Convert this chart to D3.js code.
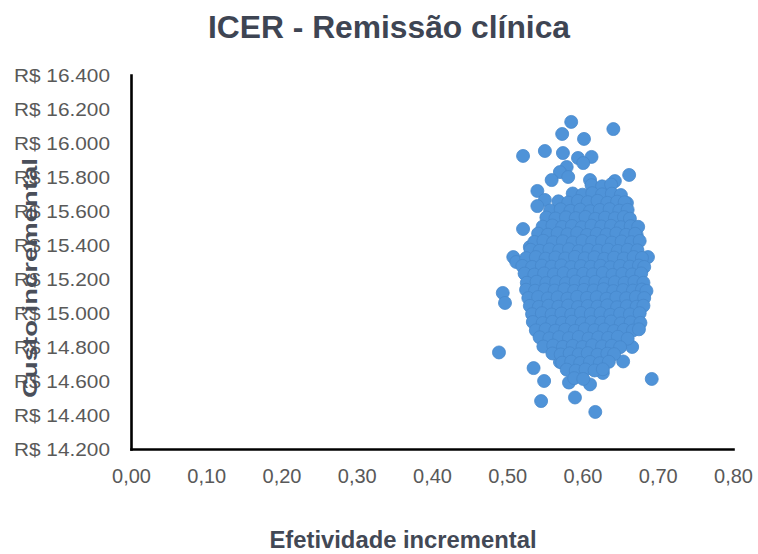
<!DOCTYPE html>
<html>
<head>
<meta charset="utf-8">
<script src="https://cdn.jsdelivr.net/npm/d3@7"></script>
<style>
  body { margin: 0; background: #fff; }
  svg { display: block; font-family: "Liberation Sans", Arial, sans-serif; }
</style>
</head>
<body>
<svg></svg>
<script>
// texts
var chartTitle = "ICER - Remissão clínica";
var xTitle = "Efetividade incremental";
var yTitle = "Custo incremental";

// tick values
var xTicks = [0, 0.1, 0.2, 0.3, 0.4, 0.5, 0.6, 0.7, 0.8];
var yTicks = [14200, 14400, 14600, 14800, 15000, 15200, 15400, 15600, 15800, 16000, 16200, 16400];

// simulations [effect, cost]: scattered ones around the cloud
var outerPoints = [
  [0.585, 16124], [0.573, 16053], [0.602, 16024], [0.641, 16082], [0.521, 15924],
  [0.550, 15953], [0.574, 15941], [0.594, 15912], [0.612, 15918], [0.601, 15882],
  [0.579, 15859], [0.570, 15829], [0.559, 15782], [0.581, 15800], [0.662, 15812],
  [0.643, 15776], [0.610, 15782], [0.540, 15718], [0.550, 15665], [0.540, 15629],
  [0.521, 15494], [0.530, 15388], [0.508, 15329], [0.512, 15300], [0.687, 15329],
  [0.672, 15459], [0.659, 15647], [0.489, 14768], [0.494, 15118], [0.497, 15059],
  [0.535, 14676], [0.549, 14600], [0.545, 14482], [0.590, 14503], [0.617, 14418],
  [0.692, 14612], [0.654, 14715], [0.666, 14800], [0.610, 14580], [0.582, 14591],
  [0.570, 14712], [0.627, 14647]
];

// simulations [effect, cost]: the dense core of the cloud
var corePoints = [
  [0.612, 15752], [0.626, 15745], [0.638, 15756],
  [0.587, 15703], [0.600, 15696], [0.613, 15705], [0.626, 15698], [0.639, 15702], [0.651, 15694],
  [0.568, 15657], [0.581, 15650], [0.594, 15659], [0.607, 15652], [0.620, 15660], [0.633, 15648], [0.646, 15655], [0.656, 15651],
  [0.557, 15603], [0.571, 15610], [0.584, 15601], [0.597, 15608], [0.610, 15599], [0.623, 15606], [0.636, 15611], [0.649, 15602], [0.660, 15607],
  [0.552, 15562], [0.564, 15556], [0.578, 15563], [0.591, 15558], [0.604, 15565], [0.617, 15554], [0.630, 15561], [0.643, 15557], [0.655, 15564], [0.663, 15555],
  [0.547, 15508], [0.560, 15515], [0.573, 15506], [0.586, 15512], [0.599, 15504], [0.612, 15514], [0.625, 15509], [0.638, 15513], [0.651, 15505], [0.664, 15511], [0.674, 15507],
  [0.541, 15467], [0.554, 15461], [0.567, 15469], [0.580, 15463], [0.593, 15470], [0.606, 15459], [0.619, 15466], [0.632, 15462], [0.645, 15468], [0.658, 15460], [0.670, 15466],
  [0.536, 15418], [0.548, 15425], [0.561, 15416], [0.574, 15422], [0.587, 15415], [0.600, 15424], [0.613, 15419], [0.626, 15423], [0.639, 15414], [0.652, 15421], [0.665, 15417], [0.676, 15424],
  [0.531, 15372], [0.543, 15366], [0.556, 15374], [0.569, 15368], [0.582, 15375], [0.595, 15364], [0.608, 15371], [0.621, 15367], [0.634, 15373], [0.647, 15365], [0.660, 15372], [0.673, 15369],
  [0.525, 15323], [0.538, 15329], [0.551, 15320], [0.564, 15327], [0.577, 15321], [0.590, 15330], [0.603, 15322], [0.616, 15328], [0.629, 15319], [0.642, 15326], [0.655, 15321], [0.668, 15329], [0.679, 15324],
  [0.520, 15277], [0.533, 15271], [0.546, 15279], [0.559, 15273], [0.572, 15280], [0.585, 15270], [0.598, 15276], [0.611, 15272], [0.624, 15278], [0.637, 15269], [0.650, 15277], [0.663, 15273], [0.675, 15279], [0.682, 15271],
  [0.523, 15232], [0.536, 15226], [0.549, 15233], [0.562, 15227], [0.575, 15234], [0.588, 15225], [0.601, 15231], [0.614, 15228], [0.627, 15235], [0.640, 15224], [0.653, 15230], [0.666, 15227], [0.678, 15233],
  [0.526, 15178], [0.539, 15184], [0.552, 15176], [0.565, 15182], [0.578, 15175], [0.591, 15185], [0.604, 15179], [0.617, 15183], [0.630, 15174], [0.643, 15181], [0.656, 15177], [0.669, 15184], [0.681, 15178],
  [0.525, 15137], [0.537, 15131], [0.550, 15138], [0.563, 15132], [0.576, 15139], [0.589, 15130], [0.602, 15136], [0.615, 15133], [0.628, 15140], [0.641, 15129], [0.654, 15135], [0.667, 15132], [0.679, 15138], [0.685, 15130],
  [0.528, 15088], [0.541, 15094], [0.554, 15086], [0.567, 15092], [0.580, 15085], [0.593, 15095], [0.606, 15089], [0.619, 15093], [0.632, 15084], [0.645, 15091], [0.658, 15087], [0.671, 15094], [0.682, 15088],
  [0.530, 15042], [0.542, 15036], [0.555, 15043], [0.568, 15037], [0.581, 15044], [0.594, 15035], [0.607, 15041], [0.620, 15038], [0.633, 15045], [0.646, 15034], [0.659, 15040], [0.672, 15037], [0.681, 15043],
  [0.533, 14993], [0.546, 14999], [0.559, 14991], [0.572, 14997], [0.585, 14990], [0.598, 15000], [0.611, 14994], [0.624, 14998], [0.637, 14989], [0.650, 14996], [0.663, 14992], [0.676, 14999],
  [0.534, 14947], [0.547, 14941], [0.560, 14948], [0.573, 14942], [0.586, 14949], [0.599, 14940], [0.612, 14946], [0.625, 14943], [0.638, 14950], [0.651, 14939], [0.664, 14945], [0.677, 14942],
  [0.538, 14898], [0.551, 14904], [0.564, 14896], [0.577, 14902], [0.590, 14895], [0.603, 14905], [0.616, 14899], [0.629, 14903], [0.642, 14894], [0.655, 14901], [0.667, 14897], [0.675, 14904],
  [0.543, 14857], [0.556, 14851], [0.569, 14858], [0.582, 14852], [0.595, 14859], [0.608, 14850], [0.621, 14856], [0.634, 14853], [0.647, 14860], [0.660, 14849],
  [0.548, 14803], [0.561, 14809], [0.574, 14801], [0.587, 14807], [0.600, 14800], [0.613, 14810], [0.626, 14804], [0.639, 14808], [0.650, 14799],
  [0.560, 14762], [0.571, 14756], [0.583, 14763], [0.595, 14757], [0.607, 14764], [0.620, 14755], [0.633, 14761], [0.642, 14758],
  [0.573, 14708], [0.585, 14714], [0.597, 14706], [0.610, 14712], [0.623, 14705], [0.635, 14713],
  [0.579, 14667], [0.591, 14661], [0.604, 14668], [0.616, 14662], [0.627, 14669],
  [0.589, 14617], [0.601, 14612]
];

var screen = { width: 758, height: 554 };
var margins = { left: 131, right: 25, top: 75, bottom: 105 };
var graph = {
  width: screen.width - margins.left - margins.right,
  height: screen.height - margins.top - margins.bottom
};

var svg = d3.select("svg").attr("width", screen.width).attr("height", screen.height);

var ptBr = d3.formatLocale({ decimal: ",", thousands: ".", grouping: [3], currency: ["R$ ", ""] });

var xScale = d3.scaleLinear().domain([0, 0.8]).range([0, graph.width]);
var yScale = d3.scaleLinear().domain([14200, 16400]).range([graph.height, 0]);

var plot = svg.append("g")
  .attr("transform", "translate(" + margins.left + "," + margins.top + ")");

// points
plot.append("g")
  .selectAll("circle")
  .data(outerPoints.concat(corePoints))
  .enter()
  .append("circle")
  .attr("cx", function (d) { return xScale(d[0]); })
  .attr("cy", function (d) { return yScale(d[1]); })
  .attr("r", 6.5)
  .style("fill", "#4f93d8")
  .style("stroke", "#4688cc")
  .style("stroke-width", 0.8);

// axes
var xAxis = d3.axisBottom(xScale)
  .tickValues(xTicks)
  .tickSize(0)
  .tickPadding(20)
  .tickFormat(ptBr.format(",.2f"));

var yAxis = d3.axisLeft(yScale)
  .tickValues(yTicks)
  .tickSize(0)
  .tickPadding(21)
  .tickFormat(function (d) { return "R$ " + ptBr.format(",")(d); });

var gx = plot.append("g")
  .attr("transform", "translate(0," + graph.height + ")")
  .call(xAxis);

var gy = plot.append("g").call(yAxis);

[gx, gy].forEach(function (g) {
  g.select(".domain")
    .attr("stroke", "#000")
    .attr("stroke-width", 2.6)
    .attr("stroke-linecap", "square");
  g.selectAll("text")
    .attr("fill", "#595959")
    .style("font-family", "'Liberation Sans', Arial, sans-serif");
});
gx.selectAll("text").style("font-size", "20px");
gy.selectAll("text")
  .style("font-size", "19px")
  .attr("textLength", 96)
  .attr("lengthAdjust", "spacingAndGlyphs");

// titles
svg.append("text")
  .attr("x", 389)
  .attr("y", 38)
  .attr("text-anchor", "middle")
  .attr("textLength", 362)
  .attr("lengthAdjust", "spacingAndGlyphs")
  .style("font-size", "31px")
  .style("font-weight", "bold")
  .attr("fill", "#3e4553")
  .text(chartTitle);

svg.append("text")
  .attr("x", 403)
  .attr("y", 548)
  .attr("text-anchor", "middle")
  .attr("textLength", 267)
  .attr("lengthAdjust", "spacingAndGlyphs")
  .style("font-size", "24px")
  .style("font-weight", "bold")
  .attr("fill", "#424855")
  .text(xTitle);

svg.append("text")
  .attr("transform", "translate(37,278) rotate(-90)")
  .attr("text-anchor", "middle")
  .attr("textLength", 240)
  .attr("lengthAdjust", "spacingAndGlyphs")
  .style("font-size", "21px")
  .style("font-weight", "bold")
  .attr("fill", "#4a4f5a")
  .text(yTitle);
</script>
</body>
</html>
